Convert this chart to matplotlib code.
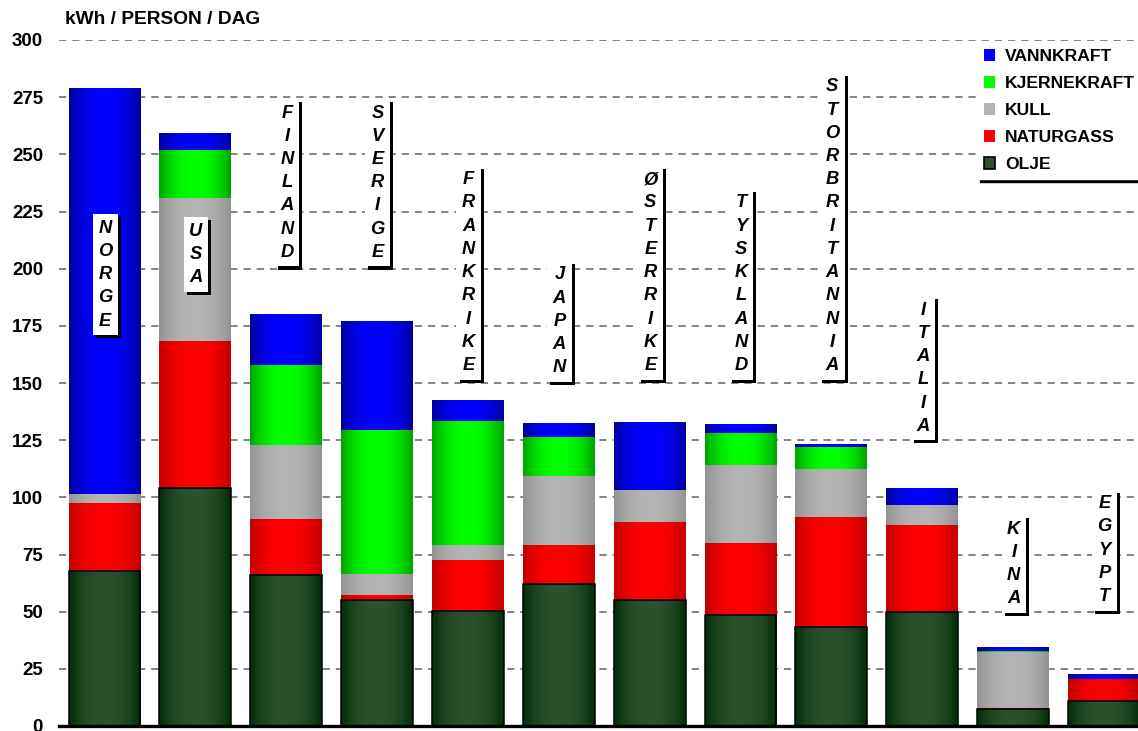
import numpy as np
import matplotlib
matplotlib.use('Agg')
from matplotlib import pyplot as plt
from matplotlib import colors as mcolors
from matplotlib import patheffects as pe
from matplotlib.patches import Patch

plt.rcParams['font.family'] = ['Liberation Sans', 'DejaVu Sans']

# =============================================================================
# Data: energiforbruk per person per dag (kWh)
# =============================================================================
land = ['NORGE', 'USA', 'FINLAND', 'SVERIGE', 'FRANKRIKE', 'JAPAN',
        'ØSTERRIKE', 'TYSKLAND', 'STORBRITANNIA', 'ITALIA', 'KINA', 'EGYPT']
olje = [68, 104, 66, 55, 50.5, 62, 55, 48.5, 43.5, 50, 7.5, 11]
naturgass = [29.5, 64.5, 24.5, 2.5, 22, 17, 34, 31.5, 48, 38, 0.4, 9.5]
kull = [4, 62.5, 32.5, 9, 6.5, 30.5, 14, 34, 21, 8.5, 24.5, 0]
kjernekraft = [0, 21, 35, 63, 54.5, 17, 0, 14, 9.5, 0, 0.4, 0]
vannkraft = [177.5, 7, 22, 47.5, 9, 6, 29.5, 3.5, 1, 7, 1.5, 1.8]

# bunnen av navneboksen over/inni hver stolpe
navn_y = [171, 190, 201, 201, 151.5, 150.5, 151.5, 151.5, 151.5, 125, 49.5, 50.5]

# (navn, verdier, lys farge i midten, mork farge i kanten)
serier = [
    ('OLJE', olje, '#2a522d', '#032d08'),
    ('NATURGASS', naturgass, '#ff0000', '#c20000'),
    ('KULL', kull, '#b4b4b4', '#939393'),
    ('KJERNEKRAFT', kjernekraft, '#00ff00', '#00a400'),
    ('VANNKRAFT', vannkraft, '#0000ff', '#0000a0'),
]


def gradient(lys, mork, n=64):
    # horisontal skygge: mork i kantene, lys i midten
    t = np.linspace(0, 1, n)
    f = 1 - np.abs(2 * t - 1) ** 2.2
    lys = np.array(mcolors.to_rgb(lys))
    mork = np.array(mcolors.to_rgb(mork))
    rgb = mork + (lys - mork) * f[:, None]
    return rgb[None, :, :]


# =============================================================================
# Figur
# =============================================================================
W, H = 1138, 731
fig = plt.figure(figsize=(W / 100, H / 100), dpi=100)
ax = fig.add_axes([59 / W, 5 / H, 1090.4 / W, 686 / H])

x = np.arange(len(land))
bredde = 0.79
bunn = np.zeros(len(land))
for navn, verdier, lys, mork in serier:
    verdier = np.array(verdier, dtype=float)
    bars = ax.bar(x, verdier, bredde, bottom=bunn, color=lys, linewidth=0, zorder=2)
    for b in bars:
        if b.get_height() <= 0:
            continue
        ax.imshow(gradient(lys, mork),
                  extent=[b.get_x(), b.get_x() + b.get_width(),
                          b.get_y(), b.get_y() + b.get_height()],
                  aspect='auto', interpolation='bilinear', zorder=2.5)
    if navn == 'OLJE':
        ax.bar(x, verdier, bredde, bottom=bunn, fill=False,
               edgecolor='black', linewidth=1.1, zorder=3)
    bunn += verdier

ax.set_xlim(-0.5, len(land) - 0.5)
ax.set_ylim(0, 300)
ax.set_xticks([])
ax.set_yticks(np.arange(0, 301, 25))
ax.tick_params(axis='y', length=0, pad=11.5, labelsize=13.5)
for lbl in ax.get_yticklabels():
    lbl.set_fontweight('bold')
ax.yaxis.grid(True, linestyle=(0, (4.0, 3.3)), color='#7a7a7a', linewidth=1.3, zorder=0)
ax.set_axisbelow(True)
for s in ['top', 'left', 'right']:
    ax.spines[s].set_visible(False)
ax.spines['bottom'].set_linewidth(2.4)
ax.spines['bottom'].set_zorder(4)

# landnavn, loddrett stablet i hvite bokser med svart skygge
for i, (navn, yb) in enumerate(zip(land, navn_y)):
    t = ax.annotate('\n'.join(navn), xy=(i, yb), xytext=(0.5, 3.9),
                    textcoords='offset points', ha='center', va='bottom',
                    fontsize=13.2, fontweight='bold', fontstyle='italic',
                    linespacing=1.48,
                    bbox=dict(boxstyle='square,pad=0.3', fc='white', ec='none'),
                    zorder=5)
    t.get_bbox_patch().set_path_effects([
        pe.SimplePatchShadow(offset=(2.2, -2.2), shadow_rgbFace='black', alpha=1),
        pe.Normal()])

# tegnforklaring
handles = []
labels = []
for navn, verdier, lys, mork in serier[::-1]:
    ec = 'black' if navn == 'OLJE' else 'none'
    handles.append(Patch(facecolor=lys, edgecolor=ec, linewidth=1.2))
    labels.append(navn)
leg = fig.legend(handles, labels, loc='upper left',
                 bbox_to_anchor=(977 / W, 1 - 42 / H),
                 frameon=True, fancybox=False,
                 shadow={'color': 'black', 'alpha': 1},
                 edgecolor='white', framealpha=1,
                 prop=dict(weight='bold', size=12.6),
                 handlelength=0.62, handleheight=0.62, handletextpad=0.58,
                 labelspacing=0.69, borderpad=0.4, borderaxespad=0)

fig.text(65 / W, 1 - 20 / H, 'kWh / PERSON / DAG', ha='left', va='center',
         fontsize=13.8, fontweight='bold')

fig.savefig('out.png', dpi=100)
